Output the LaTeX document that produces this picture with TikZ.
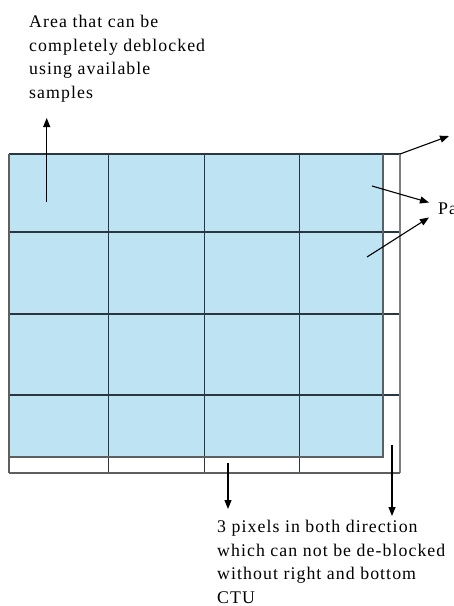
\documentclass[tikz,border=0pt]{standalone}
\usepackage{fontspec}
\setmainfont[LetterSpace=6]{Liberation Serif}
\usetikzlibrary{arrows.meta}
\definecolor{cellblue}{RGB}{190,228,244}
\definecolor{gridline}{RGB}{40,55,65}
\definecolor{edgegray}{RGB}{95,95,95}
\tikzset{
  gridl/.style={draw=gridline, line width=1.1pt},
  edgel/.style={draw=edgegray, line width=1.6pt},
  pointer/.style={draw=black, line width=1.1pt, -{Triangle[length=9pt,width=7pt]}},
  lbl/.style={inner sep=0pt, anchor=north west, align=left, font=\fontsize{17.8}{23.6}\selectfont}
}
\begin{document}
\begin{tikzpicture}[x=1pt,y=-1pt]
\useasboundingbox (0,0) rectangle (454,606);
% blue area
\fill[cellblue] (9,154) rectangle (383,457);
% grid lines
\foreach \yy in {154,232,314,395}{ \draw[gridl] (9,\yy) -- (400,\yy); }
\foreach \xx in {108.7,204.3,299.7}{ \draw[gridl] (\xx,154) -- (\xx,473); }
\draw[edgel] (9,154) -- (9,473);
\draw[edgel] (383,154) -- (383,457) -- (9,457);
\draw[edgel, draw=edgegray!80] (400,154) -- (400,473);
\draw[edgel] (9,473) -- (400,473);
% labels
\node[lbl] (txtA) at (29,15) {Area that can be\\completely deblocked\\using available\\samples};
\node[lbl] (txtB) at (217,520) {3 pixels in both direction\\which can not be de-blocked\\without right and bottom\\CTU};
\node[lbl, anchor=base west] (txtP) at (438,214) {Pa};
% arrow coordinates
\coordinate (a1s) at (46.7,202);
\coordinate (a1e) at (46.7,118);
\coordinate (a2s) at (400,154);
\coordinate (a2e) at (449,136);
\coordinate (a3s) at (372,186);
\coordinate (a3e) at (429,202.5);
\coordinate (a4s) at (367,257);
\coordinate (a4e) at (429,217.5);
\coordinate (a5s) at (228,463);
\coordinate (a5e) at (228,509);
\coordinate (a6s) at (392,445);
\coordinate (a6e) at (392,516);
\draw[pointer] (a1s) -- (a1e);
\draw[pointer] (a2s) -- (a2e);
\draw[pointer] (a3s) -- (a3e);
\draw[pointer] (a4s) -- (a4e);
\draw[pointer] (a5s) -- (a5e);
\draw[pointer] (a6s) -- (a6e);
\end{tikzpicture}
\end{document}
